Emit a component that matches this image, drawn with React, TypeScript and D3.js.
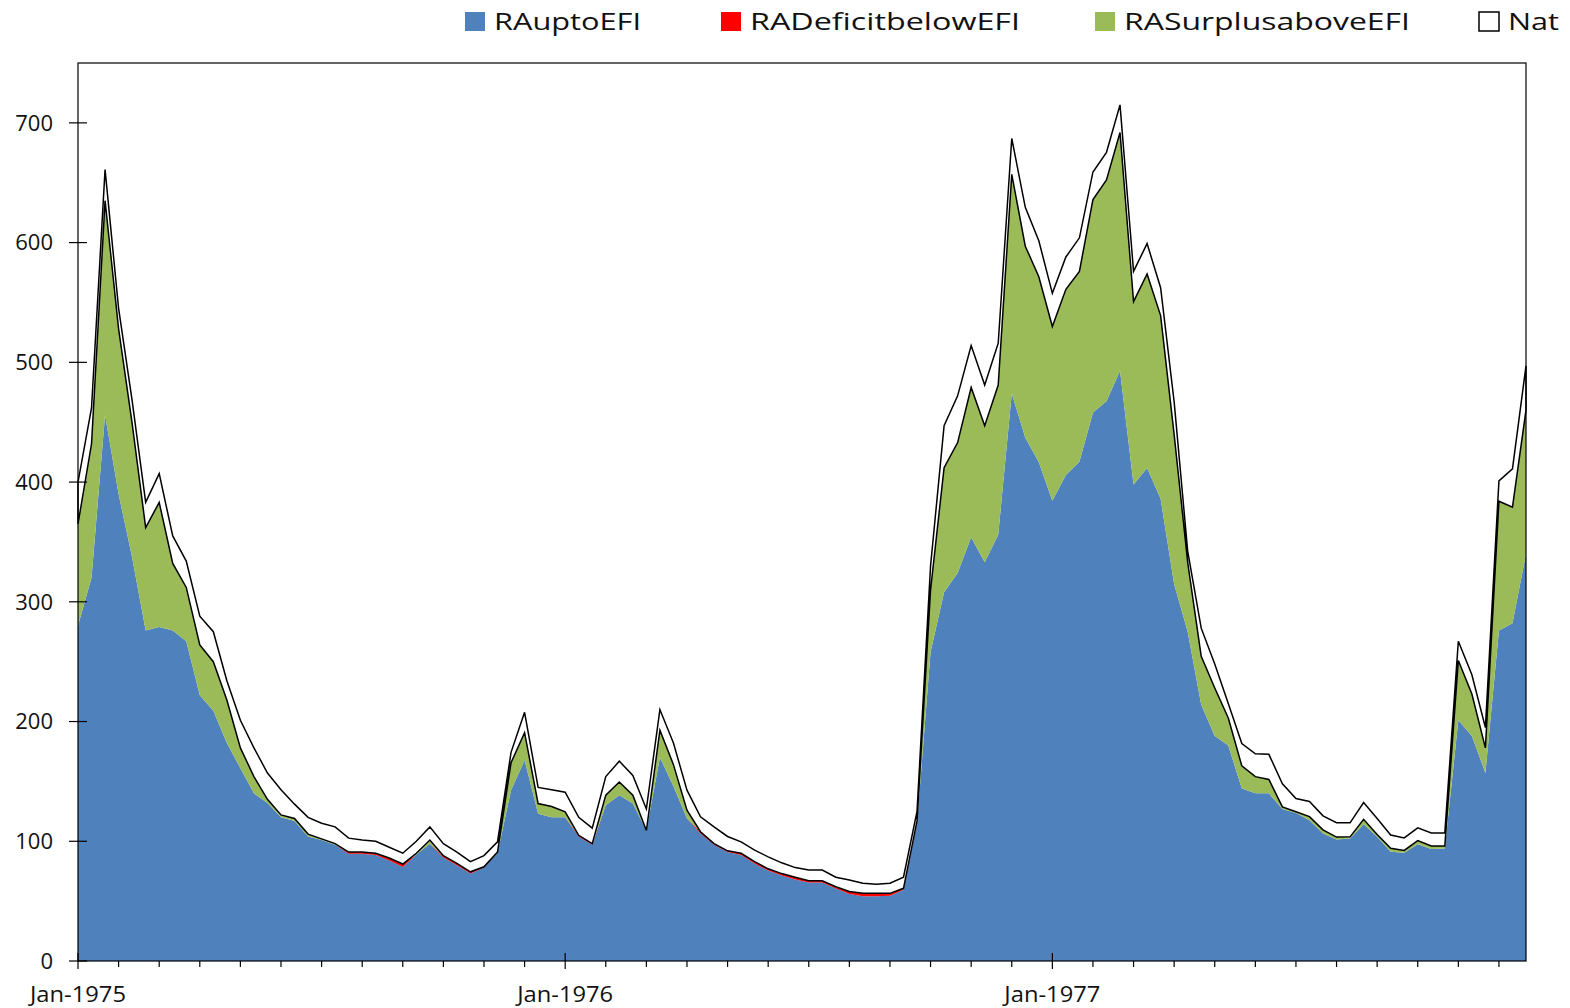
import React from 'react';
import * as d3 from 'd3';

// dekadal values, Jan-1975 .. Dec-1977 (36 per year)
const raUptoEFI = [
  280, 320, 456, 390, 337, 276, 279, 276, 267, 222, 209, 182, 161, 140, 132, 120, 117, 104, 101, 97,
  89.5, 89.5, 88.5, 84, 78.5, 89, 98, 86.5, 80, 73, 78, 90, 142.7, 167.7, 123, 120,
  120, 104, 97, 130, 138.5, 131.5, 109, 170, 146, 119, 106.5, 97, 91, 88.5, 81.5, 75.5,
  71.5, 68, 65.5, 65.5, 60.5, 56, 54, 54, 54.5, 59.5, 115, 258, 308, 324, 354, 333, 356, 474, 437, 416.5,
  384.5, 406, 417, 458, 467.4, 493, 398, 411.8, 386, 314.6, 275, 214, 188, 180, 144, 140, 140, 127,
  123.7, 117.6, 106.5, 101.5, 102.4, 114.3, 103.7, 91.2, 90.4, 97.6, 93.5, 94, 201, 188, 157, 276, 282, 340
];
const raDeficitBelowEFI = [
  0, 0, 0, 0, 0, 0, 0, 0, 0, 0, 0, 0, 0, 0, 0, 0, 0, 0, 0, 0,
  1.5, 1.5, 1.5, 2, 2.5, 0, 0, 1.5, 1.5, 1.5, 0.7, 0, 0, 0, 0, 0,
  0, 1, 1, 0, 0, 0, 0, 0, 0, 0, 1.5, 1, 1, 1.5, 1.5, 1.5,
  1.5, 2, 1.5, 1.5, 1.5, 2, 2.5, 2.5, 2, 1.2, 0, 0, 0, 0, 0, 0, 0, 0, 0, 0,
  0, 0, 0, 0, 0, 0, 0, 0, 0, 0, 0, 0, 0, 0, 0, 0, 0, 0,
  0, 0, 0, 0, 0, 0, 0, 0, 0, 0, 0, 0, 0, 0, 0, 0, 0, 0
];
const raSurplusAboveEFI = [
  85, 112, 179, 138, 112, 86, 104, 56, 45, 42, 41, 36, 17, 14, 3, 2, 2, 2, 1, 1,
  0, 0, 0, 0, 0, 1, 3, 0, 0, 0, 0, 1, 23, 23, 8.5, 9,
  4.6, 0, 0, 8.5, 11, 7, 0, 22.7, 18, 7, 0, 0, 0, 0, 0, 0,
  0, 0, 0, 0, 0, 0, 0, 0, 0, 0, 2, 52, 104, 109, 125, 114, 125, 183, 160, 155,
  145.5, 155, 159, 178, 185, 199, 152.7, 162, 153, 125, 58, 40.5, 40, 23, 19, 14, 11.6, 1.7,
  1, 3, 3, 2, 1.3, 4, 2, 3, 2, 3, 2.5, 2, 50, 35, 21, 108, 97, 120
];
const nat = [
  35, 30, 26, 17, 19, 21, 24, 23, 22, 24, 25, 16, 23, 24, 22, 21, 12, 14, 13, 14,
  11.6, 10, 10, 9, 9, 10, 11, 10, 9.5, 8.5, 9.3, 8.5, 8.6, 17, 13.5, 14,
  16.4, 15, 13, 15.5, 17.4, 16.5, 18, 17.3, 18, 16.7, 12.4, 14, 12, 9.5, 9.6, 10,
  9, 8, 9, 9, 8, 9.6, 8.5, 7.5, 8.5, 9.3, 8, 20, 35, 39, 35, 34, 35, 30, 32.5, 30,
  27.6, 27, 28, 23, 23, 23, 25.3, 25.4, 23.3, 27.4, 9.4, 23.5, 20, 12, 18.6, 19, 21, 19.3,
  11, 12.6, 11.7, 12, 11.7, 14, 13.3, 11, 10.4, 10.6, 11, 11, 16, 16, 17, 17, 32, 37
];

const yearLabels = ['Jan-1975', 'Jan-1976', 'Jan-1977'];
const yTicks = [0, 100, 200, 300, 400, 500, 600, 700];

const seriesKeys = ['RAuptoEFI', 'RADeficitbelowEFI', 'RASurplusaboveEFI', 'Nat'];
const seriesColors = ['#4F81BD', '#FF0000', '#9BBB59', '#FFFFFF'];
const legendX = [465, 721, 1095, 1479];
const legendTextLen = [147, 270, 286, 51];

const W = 1570;
const H = 1008;
const left = 78, right = 1526, top = 63, bottom = 961;
const FONT = '"Open Sans", sans-serif';

export default function App() {
  const rows = raUptoEFI.map((v, i) => ({
    i,
    RAuptoEFI: v,
    RADeficitbelowEFI: raDeficitBelowEFI[i],
    RASurplusaboveEFI: raSurplusAboveEFI[i],
    Nat: nat[i],
  }));

  const x = d3.scaleLinear().domain([0, rows.length - 1]).range([left, right]);
  const y = d3.scaleLinear().domain([0, 750]).range([bottom, top]);

  const stacked = d3.stack<any>().keys(seriesKeys)(rows);
  const area = d3.area<any>()
    .x((d) => x(d.data.i))
    .y0((d) => y(d[0]))
    .y1((d) => y(d[1]));

  const monthTicks = d3.range(0, rows.length, 3);

  return (
    <div style={{ position: 'absolute', left: 0, top: 0 }}>
      <svg width={W} height={H} style={{ display: 'block', background: '#fff' }}>
        {stacked.map((s, k) => (
          <path
            key={s.key}
            d={area(s) || ''}
            fill={seriesColors[k]}
            stroke={s.key === 'Nat' ? '#000' : 'none'}
            strokeWidth={s.key === 'Nat' ? 1.5 : 0}
            strokeLinejoin="miter"
          />
        ))}

        {/* plot frame */}
        <rect x={left} y={top} width={right - left} height={bottom - top} fill="none" stroke="#000" strokeWidth={1.2} />

        {/* y axis */}
        {yTicks.map((t) => (
          <g key={t}>
            <line x1={left - 9} x2={left + 9} y1={y(t)} y2={y(t)} stroke="#000" strokeWidth={1.2} />
            <text
              x={53}
              y={y(t)}
              dy="0.35em"
              textAnchor="end"
              fontFamily={FONT}
              fontSize={22}
              fill="#111"
            >
              {t}
            </text>
          </g>
        ))}

        {/* x axis */}
        {monthTicks.map((i) =>
          i % 36 === 0 ? (
            <line key={i} x1={x(i)} x2={x(i)} y1={bottom - 8} y2={bottom + 8} stroke="#000" strokeWidth={1.2} />
          ) : (
            <line key={i} x1={x(i)} x2={x(i)} y1={bottom} y2={bottom + 6} stroke="#000" strokeWidth={1.2} />
          )
        )}
        {yearLabels.map((lab, k) => (
          <text
            key={lab}
            x={x(k * 36)}
            y={1002}
            textAnchor="middle"
            fontFamily={FONT}
            fontSize={22}
            textLength={96}
            lengthAdjust="spacingAndGlyphs"
            fill="#111"
          >
            {lab}
          </text>
        ))}

        {/* legend */}
        {seriesKeys.map((key, k) => (
          <g key={key}>
            <rect
              x={legendX[k]}
              y={12}
              width={20}
              height={19}
              fill={seriesColors[k]}
              stroke={key === 'Nat' ? '#000' : 'none'}
              strokeWidth={1.5}
            />
            <text
              x={legendX[k] + 29}
              y={30}
              fontFamily={FONT}
              fontSize={23.5}
              textLength={legendTextLen[k]}
              lengthAdjust="spacingAndGlyphs"
              fill="#111"
            >
              {key}
            </text>
          </g>
        ))}
      </svg>
    </div>
  );
}
